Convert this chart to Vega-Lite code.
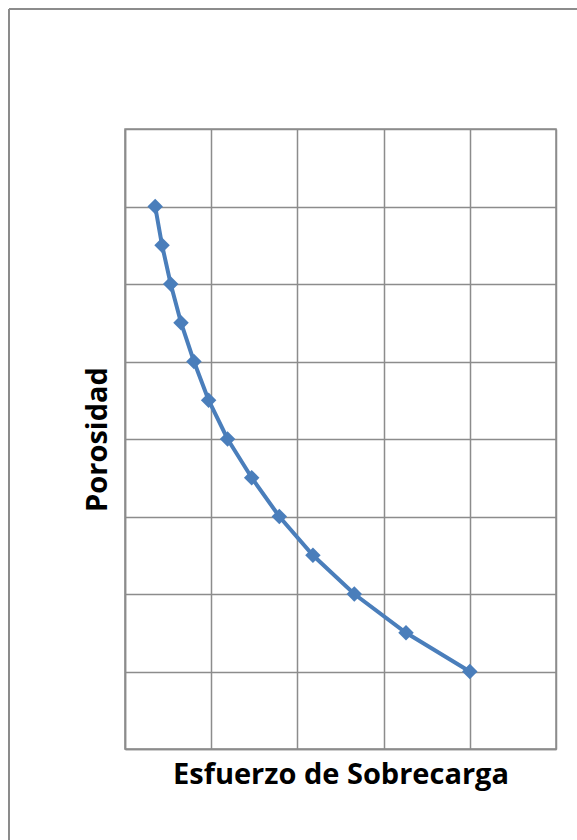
{
  "$schema": "https://vega.github.io/schema/vega-lite/v6.json",
  "autosize": "none",
  "width": 431,
  "height": 620,
  "padding": {"left": 125, "top": 129, "right": 21, "bottom": 91},
  "background": "white",
  "config": {
    "view": {"stroke": "#8c8c8c", "strokeWidth": 1.5},
    "font": "Open Sans"
  },
  "data": {
    "values": [
      {"esfuerzo": 0.35, "porosidad": 7.0},
      {"esfuerzo": 0.43, "porosidad": 6.5},
      {"esfuerzo": 0.53, "porosidad": 6.0},
      {"esfuerzo": 0.65, "porosidad": 5.5},
      {"esfuerzo": 0.80, "porosidad": 5.0},
      {"esfuerzo": 0.97, "porosidad": 4.5},
      {"esfuerzo": 1.19, "porosidad": 4.0},
      {"esfuerzo": 1.47, "porosidad": 3.5},
      {"esfuerzo": 1.79, "porosidad": 3.0},
      {"esfuerzo": 2.18, "porosidad": 2.5},
      {"esfuerzo": 2.66, "porosidad": 2.0},
      {"esfuerzo": 3.26, "porosidad": 1.5},
      {"esfuerzo": 4.0, "porosidad": 1.0}
    ]
  },
  "layer": [
    {
      "mark": {"type": "rule", "stroke": "#8c8c8c", "strokeWidth": 1.5, "clip": false},
      "encoding": {
        "x": {"datum": -1.345, "type": "quantitative"},
        "y": {"datum": 9.55, "type": "quantitative"},
        "y2": {"datum": -3}
      }
    },
    {
      "mark": {"type": "rule", "stroke": "#8c8c8c", "strokeWidth": 1.5, "clip": false},
      "encoding": {
        "x": {"datum": -1.345, "type": "quantitative"},
        "x2": {"datum": 7},
        "y": {"datum": 9.55, "type": "quantitative"}
      }
    },
    {
      "mark": {
        "type": "line",
        "color": "#4a7ebb",
        "strokeWidth": 4,
        "point": {"shape": "diamond", "size": 240, "filled": true, "color": "#4a7ebb", "opacity": 1}
      },
      "encoding": {
        "x": {
          "field": "esfuerzo",
          "type": "quantitative",
          "scale": {"domain": [0, 5], "nice": false, "zero": true},
          "axis": {
            "title": "Esfuerzo de Sobrecarga",
            "values": [0, 1, 2, 3, 4, 5],
            "labels": false,
            "ticks": false,
            "grid": true,
            "gridColor": "#8c8c8c",
            "gridWidth": 1.5,
            "gridOpacity": 1,
            "domainColor": "#8c8c8c",
            "domainWidth": 1.5,
            "titleFont": "Open Sans",
            "titleFontSize": 29,
            "titleFontWeight": "bold",
            "titleColor": "black",
            "titlePadding": 11
          }
        },
        "y": {
          "field": "porosidad",
          "type": "quantitative",
          "scale": {"domain": [0, 8], "nice": false},
          "axis": {
            "title": "Porosidad",
            "values": [0, 1, 2, 3, 4, 5, 6, 7, 8],
            "labels": false,
            "ticks": false,
            "grid": true,
            "gridColor": "#8c8c8c",
            "gridWidth": 1.5,
            "gridOpacity": 1,
            "domainColor": "#8c8c8c",
            "domainWidth": 1.5,
            "titleFont": "Open Sans",
            "titleFontSize": 29,
            "titleFontWeight": "bold",
            "titleColor": "black",
            "titlePadding": 13
          }
        }
      }
    }
  ]
}
